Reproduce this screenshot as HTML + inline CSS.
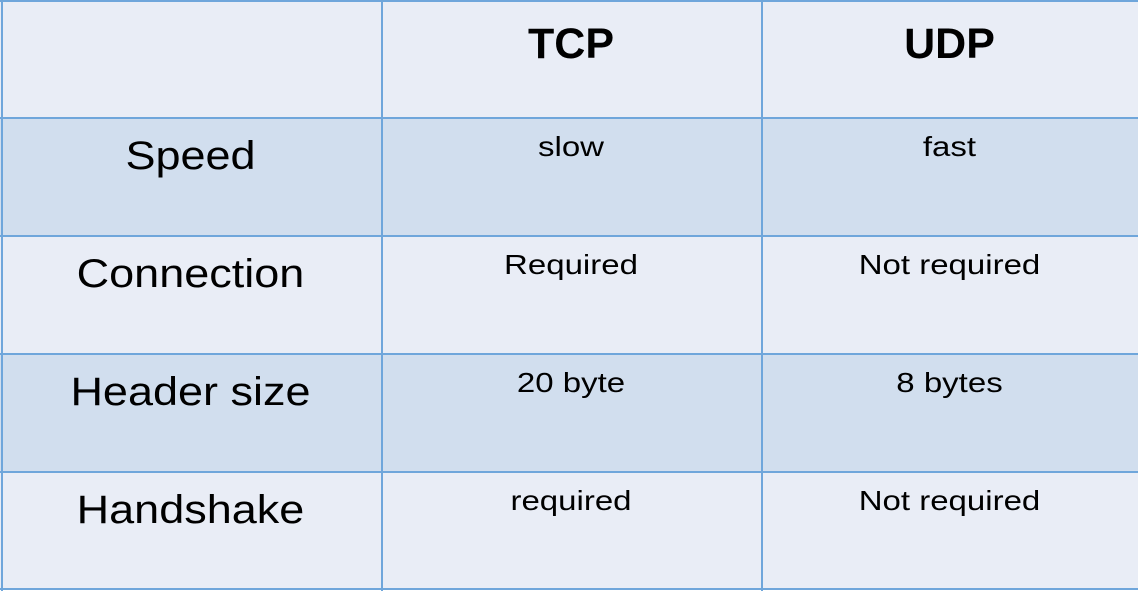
<!DOCTYPE html>
<html><head><meta charset="utf-8"><style>
body{margin:0;width:1138px;height:594px;background:#fff;position:relative;overflow:hidden;font-family:"Liberation Sans",sans-serif;color:#000}
.r{position:absolute;left:0;width:1138px;height:118px}
.l{background:#e9edf6}.d{background:#d1deee}
.v{position:absolute;top:0;height:591px;width:2px;background:#6fa6db}
.h{position:absolute;left:0;width:1138px;height:2px;background:#6fa6db}
.t{position:absolute;text-align:center;white-space:nowrap}
.hd{font-weight:bold;font-size:43px;top:20px}
.lb{font-size:45px;left:0;width:381px;transform:scaleY(0.88)}
.c{font-size:33px;transform:scaleY(0.84)}
</style></head><body>
<div class="r l" style="top:0"></div>
<div class="r d" style="top:118px"></div>
<div class="r l" style="top:236px"></div>
<div class="r d" style="top:354px"></div>
<div class="r l" style="top:472px"></div>
<div class="h" style="top:0"></div>
<div class="h" style="top:117px"></div>
<div class="h" style="top:235px"></div>
<div class="h" style="top:353px"></div>
<div class="h" style="top:471px"></div>
<div class="h" style="top:588px"></div>
<div class="v" style="left:1px"></div>
<div class="v" style="left:381px"></div>
<div class="v" style="left:761px"></div>
<div class="t hd" style="left:381px;width:380px">TCP</div>
<div class="t hd" style="left:761px;width:377px">UDP</div>
<div class="t lb" style="top:130px">Speed</div>
<div class="t lb" style="top:248px">Connection</div>
<div class="t lb" style="top:366px">Header size</div>
<div class="t lb" style="top:484px">Handshake</div>
<div class="t c" style="left:381px;width:380px;top:128px">slow</div>
<div class="t c" style="left:761px;width:377px;top:128px">fast</div>
<div class="t c" style="left:381px;width:380px;top:246px">Required</div>
<div class="t c" style="left:761px;width:377px;top:246px">Not required</div>
<div class="t c" style="left:381px;width:380px;top:364px">20 byte</div>
<div class="t c" style="left:761px;width:377px;top:364px">8 bytes</div>
<div class="t c" style="left:381px;width:380px;top:482px">required</div>
<div class="t c" style="left:761px;width:377px;top:482px">Not required</div>
</body></html>
